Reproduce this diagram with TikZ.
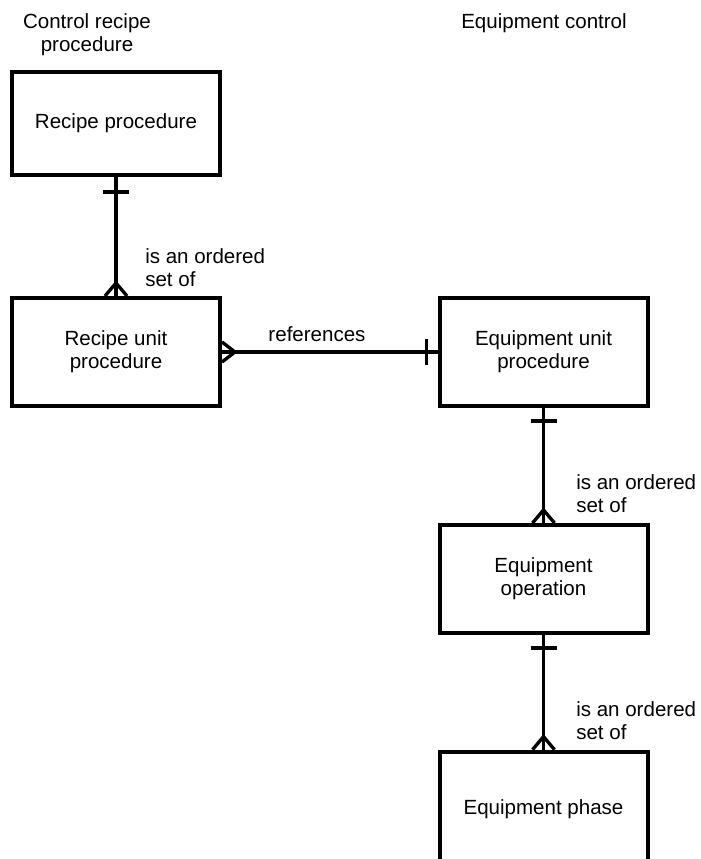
\documentclass[tikz,border=0pt]{standalone}
\usepackage{fontspec}
\setmainfont{Liberation Sans}
\usetikzlibrary{calc}

\tikzset{
  entity/.style={draw, line width=3pt, minimum width=156pt, minimum height=81pt,
    align=center, inner sep=0pt, font=\fontsize{15.4}{17.3}\selectfont},
  rel/.style={line width=2.5pt},
  lbl/.style={inner sep=0pt, align=left, font=\fontsize{15.4}{17.3}\selectfont},
}

\begin{document}
\begin{tikzpicture}[x=0.75pt,y=0.75pt,yscale=-1,xscale=1]
\useasboundingbox (0,0) rectangle (700,859);

% Headings
\node[lbl, align=center] (hrecipe) at (87,35) {Control recipe\\procedure};
\node[lbl] (hequip) at (544,23.5) {Equipment control};

% Entities
\node[entity, minimum height=77.25pt] (rp) at (116,123.5) {Recipe procedure};
\node[entity] (rup) at (116,352) {Recipe unit\\procedure};
\node[entity] (eup) at (543.5,352) {Equipment unit\\procedure};
\node[entity] (eop) at (543.5,579) {Equipment\\operation};
\node[entity, minimum height=86pt] (eph) at (543.5,809) {Equipment phase};

% Relations
\draw[rel] (rp.south) -- (rup.north);
\draw[rel] ($(rp.south)+(-13,15)$) -- ($(rp.south)+(13,15)$);
\draw[rel] ($(rup.north)+(-11,0)$) -- ($(rup.north)+(0,-13)$) -- ($(rup.north)+(11,0)$);

\draw[rel] (rup.east) -- (eup.west);
\draw[rel] ($(rup.east)+(0,-10)$) -- ($(rup.east)+(13,0)$) -- ($(rup.east)+(0,10)$);
\draw[rel] ($(eup.west)+(-11,-13)$) -- ($(eup.west)+(-11,13)$);

\draw[rel] (eup.south) -- (eop.north);
\draw[rel] ($(eup.south)+(-13,13)$) -- ($(eup.south)+(13,13)$);
\draw[rel] ($(eop.north)+(-11,0)$) -- ($(eop.north)+(0,-13)$) -- ($(eop.north)+(11,0)$);

\draw[rel] (eop.south) -- (eph.north);
\draw[rel] ($(eop.south)+(-13,13)$) -- ($(eop.south)+(13,13)$);
\draw[rel] ($(eph.north)+(-11,0)$) -- ($(eph.north)+(0,-13)$) -- ($(eph.north)+(11,0)$);

% Relation labels
\node[lbl, anchor=west] (l1) at (145,267.5) {is an ordered\\set of};
\node[lbl] (l2) at (317,334) {references};
\node[lbl, anchor=west] (l3) at (576,494) {is an ordered\\set of};
\node[lbl, anchor=west] (l4) at (576,720.5) {is an ordered\\set of};
\end{tikzpicture}
\end{document}
